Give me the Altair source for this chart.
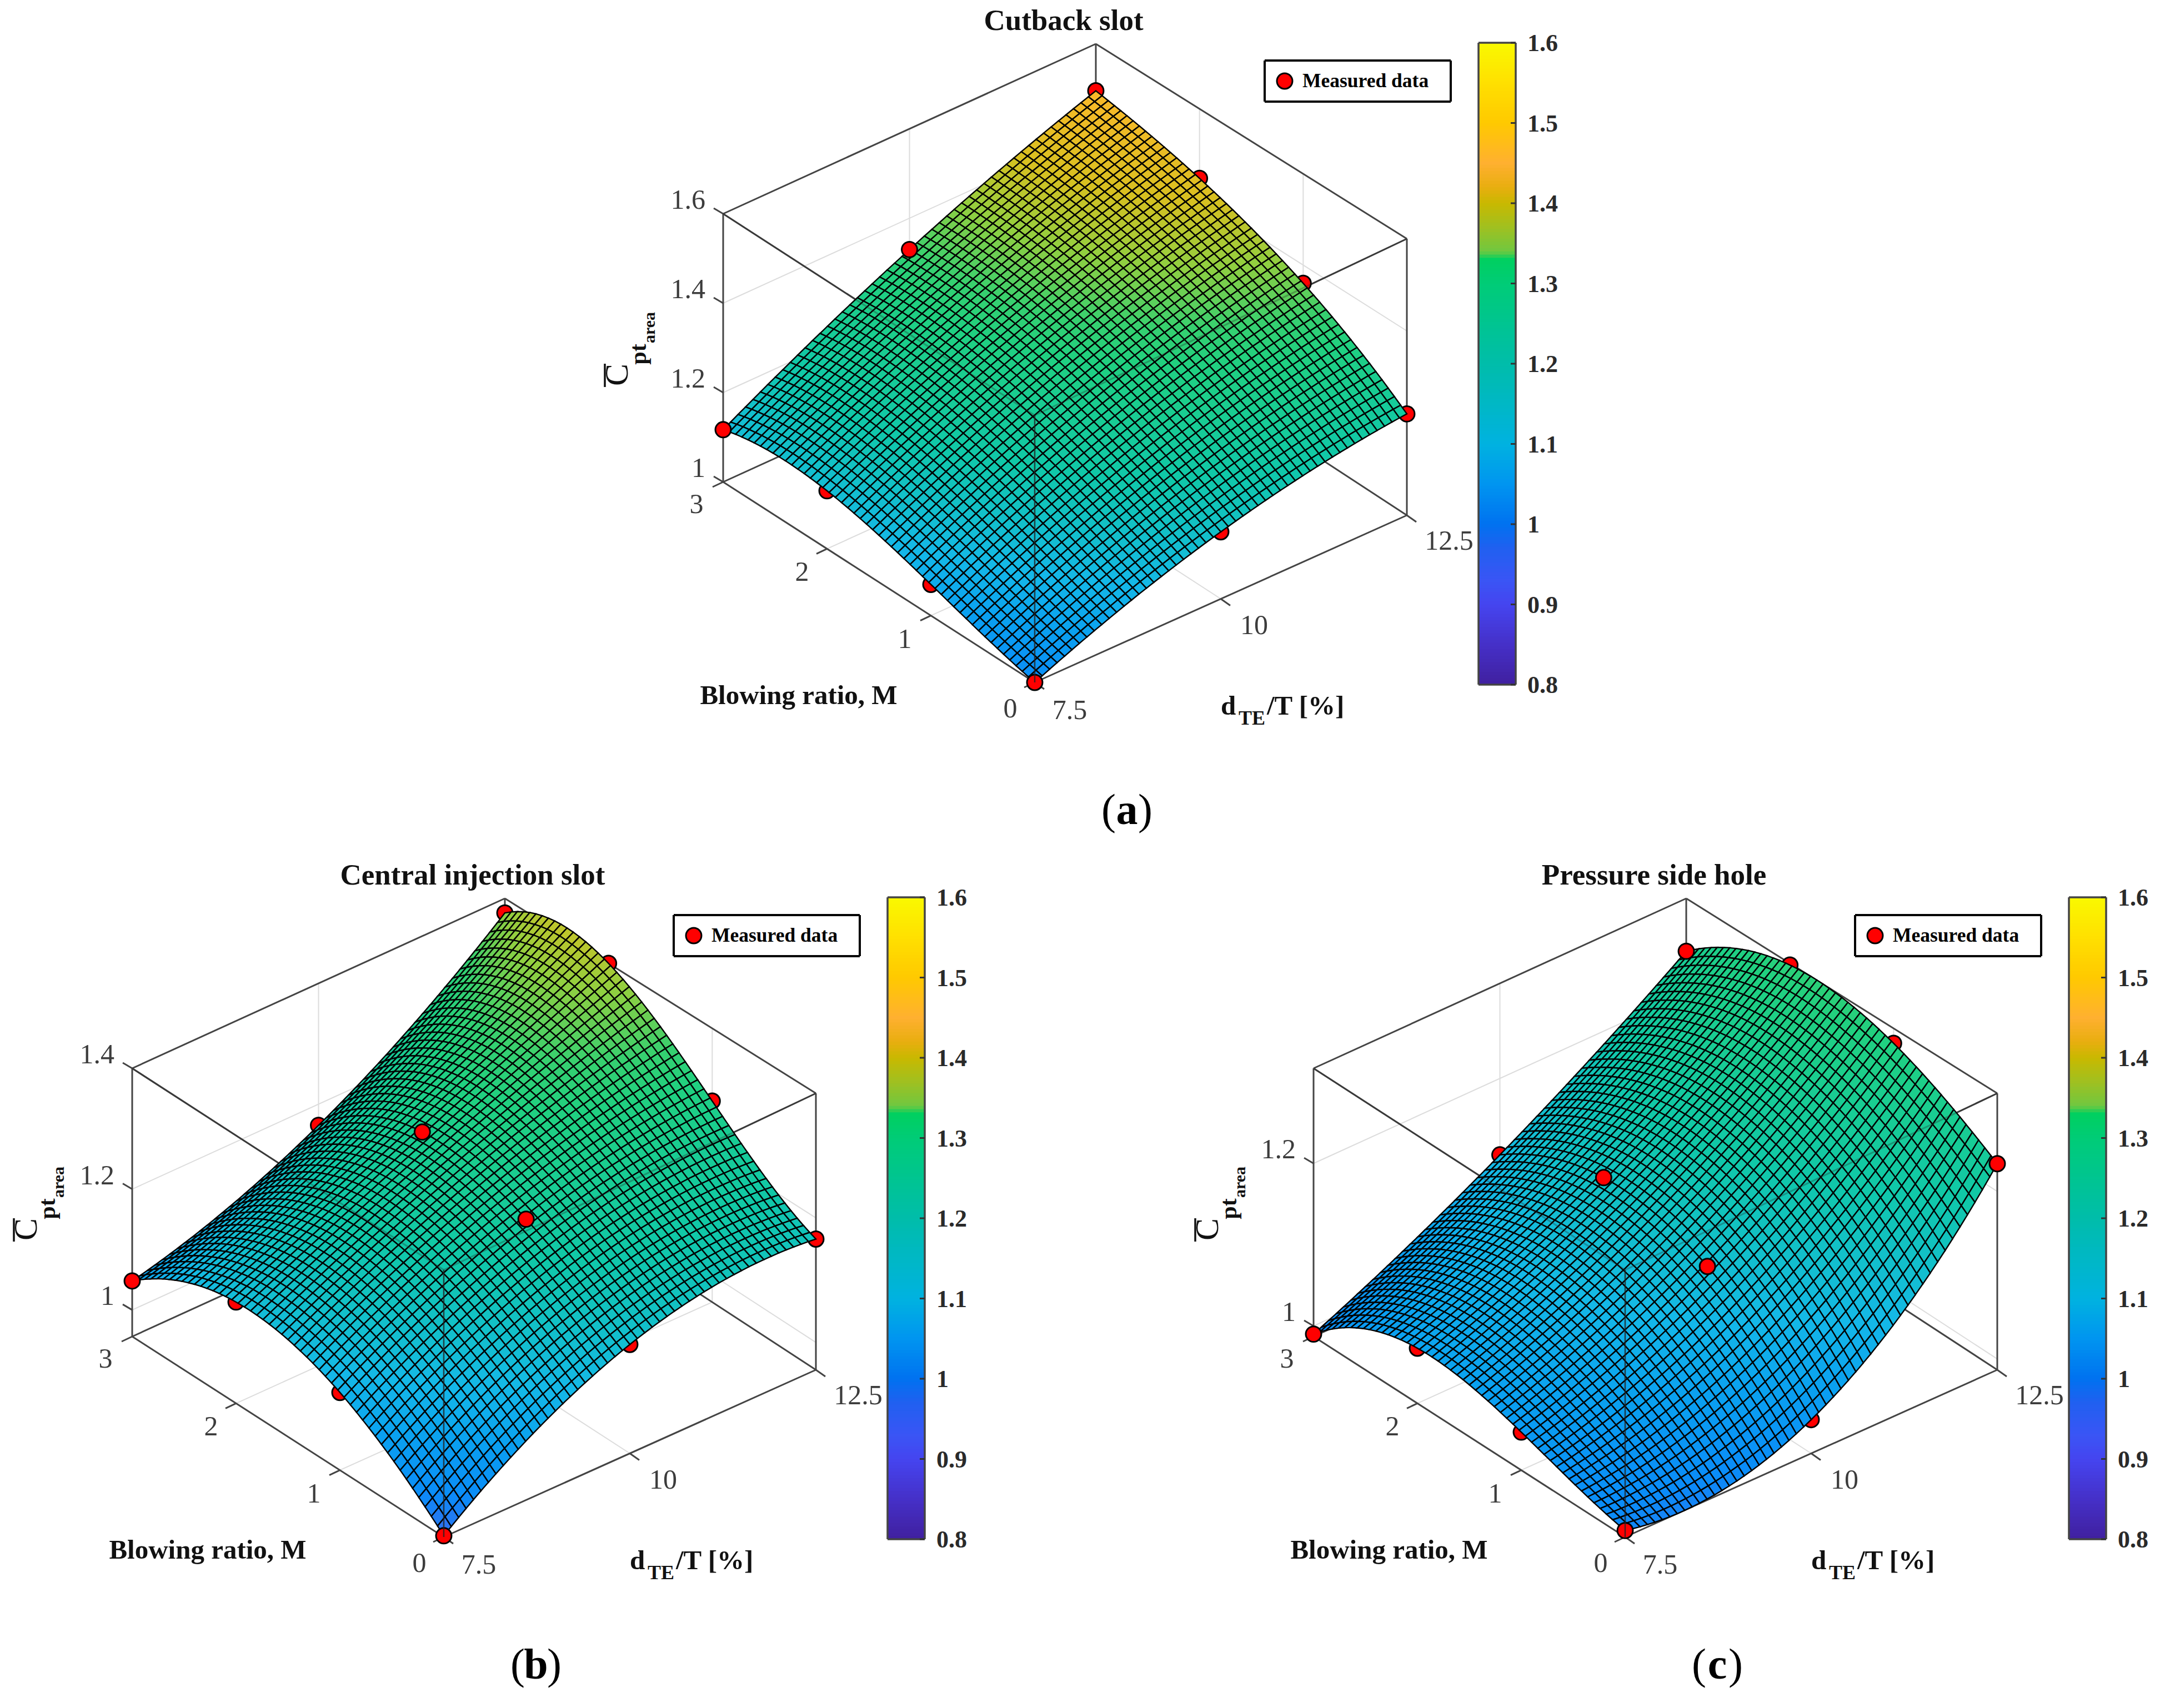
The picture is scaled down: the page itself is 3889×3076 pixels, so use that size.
import numpy as np
import pandas as pd
import altair as alt

alt.data_transformers.disable_max_rows()

# ---------- values ----------
M_VALUES = [0, 1, 2, 3]
D_VALUES = [7.5, 10, 12.5]
# rows: M = 0,1,2,3; columns: d = 7.5, 10, 12.5
CP_CUTBACK = [[1.000, 1.148, 1.220],
              [1.070, 1.252, 1.360],
              [1.130, 1.317, 1.446],
              [1.117, 1.330, 1.495]]
CP_CENTRAL = [[0.958, 1.134, 1.166],
              [1.085, 1.230, 1.282],
              [1.124, 1.264, 1.400],
              [1.048, 1.165, 1.376]]
CP_PRESSURE = [[0.995, 1.028, 1.233],
               [1.034, 1.133, 1.299],
               [1.055, 1.160, 1.315],
               [0.990, 1.106, 1.252]]
TITLES = ["Cutback slot", "Central injection slot", "Pressure side hole"]
CAPTIONS = ["a", "b", "c"]
Z_LIMITS = [(1.0, 1.6), (0.956, 1.4), (0.987, 1.317)]
Z_TICKS = [[1, 1.2, 1.4, 1.6], [1, 1.2, 1.4], [1, 1.2]]
CB_TICKS = [0.8, 0.9, 1, 1.1, 1.2, 1.3, 1.4, 1.5, 1.6]
# measured points that show in front of the surface: (M, d) per panel
ON_TOP = [[(0, 7.5), (3, 7.5), (3, 10)],
          [(0, 7.5), (3, 7.5), (1, 10), (2, 10)],
          [(0, 7.5), (3, 7.5), (1, 10), (2, 10), (0, 12.5), (3, 12.5)]]
SURFACES = [CP_CUTBACK, CP_CENTRAL, CP_PRESSURE]

# colormap as it appears on the colour bars
CB_DOMAIN = [0.8, 0.85, 0.9, 0.93, 0.97, 1.0, 1.05, 1.1, 1.2, 1.3, 1.33, 1.34, 1.37, 1.4, 1.42, 1.45, 1.5, 1.55, 1.6]
CB_RANGE = ["#40209f", "#4530c8", "#4545f0", "#3a55f5", "#2060f0", "#0072f0", "#0095f0", "#00b2e0", "#00bdaa",
            "#00cc77", "#00d060", "#70c840", "#a0c020", "#c9b800", "#e8ae10", "#ffb030", "#ffc900", "#ffe000", "#f9f900"]
# colormap as it appears on the surfaces (smoother and brighter than the bars)
SF_DOMAIN = [0.8, 0.9, 0.96, 1.0, 1.05, 1.1, 1.2, 1.3, 1.33, 1.38, 1.43, 1.5, 1.6]
SF_RANGE = ["#40209f", "#4545f0", "#3070f0", "#0a8cf8", "#0aa0f0", "#14b8e8", "#10c8a8", "#20d080", "#35d070",
            "#90cf40", "#d8c020", "#fdb82a", "#f9f900"]

# ---------- layout (image pixels) ----------
W, H = 3889, 3076
OFFSETS = [(0, 0), (-1064, 1539), (1063, 1539)]
FLOOR = {"F": (1863, 1229), "L": (1302, 868), "R": (2533, 928), "B": (1973, 562)}
TOP = {"F": (1863, 748), "L": (1302, 385), "R": (2533, 430), "B": (1973, 79)}
N_MESH = 50
SERIF = "Liberation Serif"


def bilinear(c, u, v):
    x = (1 - u) * (1 - v) * c["F"][0] + u * (1 - v) * c["L"][0] + (1 - u) * v * c["R"][0] + u * v * c["B"][0]
    y = (1 - u) * (1 - v) * c["F"][1] + u * (1 - v) * c["L"][1] + (1 - u) * v * c["R"][1] + u * v * c["B"][1]
    return x, y


def project(m, d, z, panel):
    lo, hi = Z_LIMITS[panel]
    u, v, w = m / 3, (d - 7.5) / 5, (z - lo) / (hi - lo)
    fx, fy = bilinear(FLOOR, u, v)
    tx, ty = bilinear(TOP, u, v)
    ox, oy = OFFSETS[panel]
    return fx + (tx - fx) * w + ox, fy + (ty - fy) * w + oy


def lagrange(nodes, t):
    out = []
    for i, a in enumerate(nodes):
        p = 1.0
        for j, b in enumerate(nodes):
            if i != j:
                p *= (t - b) / (a - b)
        out.append(p)
    return out


def seg(p, q):
    return {"x": p[0], "y": p[1], "x2": q[0], "y2": q[1]}


X = lambda f="x": alt.X(f, type="quantitative", scale=alt.Scale(domain=[8, W - 8], nice=False, zero=False), axis=None)
Y = lambda f="y": alt.Y(f, type="quantitative", scale=alt.Scale(domain=[H - 8, 8], nice=False, zero=False), axis=None)
COLOR_BAR = alt.Scale(domain=CB_DOMAIN, range=CB_RANGE, interpolate="rgb")
COLOR_SURF = alt.Scale(domain=SF_DOMAIN, range=SF_RANGE, interpolate="rgb")


def rules(rows, color, width, opacity=1.0):
    return alt.Chart(pd.DataFrame(rows)).mark_rule(color=color, strokeWidth=width, opacity=opacity).encode(
        x=X(), y=Y(), x2=alt.X2("x2"), y2=alt.Y2("y2"))


def texts(rows, size, weight="normal", color="#111111", align="center", angle=0):
    return alt.Chart(pd.DataFrame(rows)).mark_text(
        font=SERIF, fontSize=size, fontWeight=weight, color=color, align=align, baseline="middle", angle=angle
    ).encode(x=X(), y=Y(), text="t:N")


def dots(rows, size=780):
    return alt.Chart(pd.DataFrame(rows)).mark_point(
        shape="circle", filled=True, fill="#ff0000", stroke="#000000", strokeWidth=3, size=size, opacity=1
    ).encode(x=X(), y=Y())


grid, box, overlay, ticks, below, above, features = [], [], [], [], [], [], []
cbar, cb_ticks, cb_frame, cb_labels, tick_lab, leg_box, leg_dot = [], [], [], [], [], [], []
title_rows, leg_text, axis_m, axis_d, axis_sub, cap_par, cap_let, z_c, z_pt, z_area, z_bar = [], [], [], [], [], [], [], [], [], [], []
M_LABEL_POS = [(1819, 1277), (1629, 1152), (1444, 1031), (1254, 909)]
D_LABEL_POS = [(1926, 1280), (2258, 1127), (2609, 975)]

for p in range(3):
    ox, oy = OFFSETS[p]
    lo, hi = Z_LIMITS[p]
    P = lambda m, d, z: project(m, d, z, p)
    # box
    for z in (lo, hi):
        box += [seg(P(0, 7.5, z), P(3, 7.5, z)), seg(P(3, 7.5, z), P(3, 12.5, z)),
                seg(P(3, 12.5, z), P(0, 12.5, z)), seg(P(0, 12.5, z), P(0, 7.5, z))]
    for m, d in [(0, 7.5), (3, 7.5), (0, 12.5), (3, 12.5)]:
        box.append(seg(P(m, d, lo), P(m, d, hi)))
    overlay += [seg(P(3, 7.5, hi), P(0, 7.5, hi)), seg(P(0, 12.5, hi), P(0, 7.5, hi))]
    overlay.append(seg(P(0, 7.5, lo), P(0, 7.5, hi)))
    # grid + ticks
    for m in (1, 2):
        grid += [seg(P(m, 7.5, lo), P(m, 12.5, lo)), seg(P(m, 12.5, lo), P(m, 12.5, hi))]
    grid += [seg(P(0, 10, lo), P(3, 10, lo)), seg(P(3, 10, lo), P(3, 10, hi))]
    for z in Z_TICKS[p]:
        grid += [seg(P(3, 7.5, z), P(3, 12.5, z)), seg(P(3, 12.5, z), P(0, 12.5, z))]
        q = P(3, 7.5, z)
        ticks.append(seg(q, (q[0] - 17, q[1] - 10)))
        tick_lab.append({"x": 1270 + ox, "y": q[1] - 24, "t": f"{z:g}"})
    for m in M_VALUES:
        q = P(m, 7.5, lo)
        ticks.append(seg(q, (q[0] - 19, q[1] + 9)))
        tick_lab.append({"x": M_LABEL_POS[m][0] + ox, "y": M_LABEL_POS[m][1] + oy, "t": str(m), "right": 0})
    for i, d in enumerate(D_VALUES):
        q = P(0, d, lo)
        ticks.append(seg(q, (q[0] + 17, q[1] + 12)))
        tick_lab.append({"x": D_LABEL_POS[i][0] + ox, "y": D_LABEL_POS[i][1] + oy, "t": f"{d:g}", "right": 0})
    # measured points
    for i, m in enumerate(M_VALUES):
        for j, d in enumerate(D_VALUES):
            x, y = P(m, d, SURFACES[p][i][j])
            (above if (m, d) in ON_TOP[p] else below).append({"x": x, "y": y})
    # The 50x50 fine mesh is the surface fitted through the measured points above
    # (polynomial through the 4x3 read values); its cells cannot be read one by one.
    ms = np.linspace(0, 3, N_MESH + 1)
    ds = np.linspace(7.5, 12.5, N_MESH + 1)
    vals = np.array(SURFACES[p])
    wm = np.array([lagrange(M_VALUES, t) for t in ms])
    wd = np.array([lagrange(D_VALUES, t) for t in ds])
    zz = wm @ vals @ wd.T
    for i in range(N_MESH - 1, -1, -1):
        for j in range(N_MESH - 1, -1, -1):
            corners = [(i, j), (i + 1, j), (i + 1, j + 1), (i, j + 1), (i, j)]
            ring = [[round(v, 1) for v in P(ms[a], ds[b], zz[a, b])] for a, b in corners]
            features.append({"type": "Feature",
                             "geometry": {"type": "Polygon", "coordinates": [ring]},
                             "properties": {"v": round(float(zz[i:i + 2, j:j + 2].mean()), 4)}})
    # colour bar
    cx0, cx1, cy0, cy1 = 2662 + ox, 2729 + ox, 77 + oy, 1233 + oy
    cy = lambda v: cy1 + (cy0 - cy1) * (v - 0.8) / 0.8
    n = 200
    for k in range(n):
        v0 = 0.8 + 0.8 * k / n
        v1 = 0.8 + 0.8 * (k + 1) / n
        cbar.append({"x": cx0, "x2": cx1, "y": cy(v0), "y2": cy(v1) - 1, "v": (v0 + v1) / 2})
    cb_frame += [seg((cx0, cy0), (cx1, cy0)), seg((cx1, cy0), (cx1, cy1)),
                 seg((cx1, cy1), (cx0, cy1)), seg((cx0, cy1), (cx0, cy0))]
    for v in CB_TICKS:
        cb_ticks.append(seg((cx1, cy(v)), (cx1 - 9, cy(v))))
        cb_labels.append({"x": 2750 + ox, "y": cy(v) + 2, "t": f"{v:g}"})
    # legend
    lx0, lx1, ly0, ly1 = 2277 + ox, 2612 + ox, 109 + oy, 183 + oy
    leg_box += [seg((lx0, ly0), (lx1, ly0)), seg((lx1, ly0), (lx1, ly1)), seg((lx1, ly1), (lx0, ly1)), seg((lx0, ly1), (lx0, ly0))]
    leg_dot.append({"x": 2313 + ox, "y": 146 + oy})
    leg_text.append({"x": 2345 + ox, "y": 146 + oy, "t": "Measured data"})
    # titles, axis titles, captions
    title_rows.append({"x": 1915 + ox, "y": 38 + oy, "t": TITLES[p]})
    axis_m.append({"x": 1438 + ox, "y": 1253 + oy, "t": "Blowing ratio, M"})
    axis_d.append({"x": 2198 + ox, "y": 1272 + oy, "t": "d"})
    axis_d.append({"x": 2281 + ox, "y": 1272 + oy, "t": "/T [%]"})
    axis_sub.append({"x": 2230 + ox, "y": 1294 + oy, "t": "TE"})
    capx = 2029 + ox
    capy = 1461 + oy
    cap_par += [{"x": capx - 33, "y": capy, "t": "("}, {"x": capx + 33, "y": capy, "t": ")"}]
    cap_let.append({"x": capx, "y": capy, "t": CAPTIONS[p]})
    z_c.append({"x": 1112 + ox, "y": 675 + oy, "t": "C"})
    z_pt.append({"x": 1150 + ox, "y": 638 + oy, "t": "pt"})
    z_area.append({"x": 1170 + ox, "y": 590 + oy, "t": "area"})
    z_bar.append(seg((1089 + ox, 655 + oy), (1089 + ox, 697 + oy)))

surface = alt.Chart(alt.Data(values=features, format=alt.DataFormat(type="json"))).mark_geoshape(
    stroke="#000000", strokeWidth=2.4
).encode(
    color=alt.Color("properties.v:Q", scale=COLOR_SURF, legend=None)
).project(type="identity", scale=1, translate=[-8, -8])

bars = alt.Chart(pd.DataFrame(cbar)).mark_rect().encode(
    x=X(), x2=alt.X2("x2"), y=Y(), y2=alt.Y2("y2"),
    color=alt.Color("v:Q", scale=COLOR_BAR, legend=None))

TICK_GRAY = "#3c3c3c"
tick_mb = [r for r in tick_lab if "right" in r]
tick_z = [r for r in tick_lab if "right" not in r]

chart = alt.layer(
    rules(grid, "#dcdcdc", 2),
    rules(box, "#444444", 3),
    rules(ticks, "#444444", 3),
    dots(below),
    surface,
    dots(above),
    rules(overlay[2::3], "#222222", 2.5, 0.8),
    rules(overlay[:2] + overlay[3:5] + overlay[6:8], "#222222", 3, 0.3),
    bars,
    rules(cb_frame, "#444444", 3.5),
    rules(cb_ticks, "#333333", 3),
    texts(cb_labels, 44, "bold", "#2a2a2a", "left"),
    rules(leg_box, "#000000", 4),
    dots(leg_dot),
    texts(leg_text, 35.5, "bold", "#000000", "left"),
    texts(tick_mb, 50, "normal", TICK_GRAY),
    texts(tick_z, 50, "normal", TICK_GRAY, "right"),
    texts(title_rows, 53, "bold", "#111111"),
    texts(axis_m, 49, "bold", "#111111"),
    texts(axis_d, 49, "bold", "#111111", "left"),
    texts(axis_sub, 36, "bold", "#111111", "left"),
    texts(cap_par, 78, "normal", "#000000"),
    texts(cap_let, 78, "bold", "#000000"),
    texts(z_c, 60, "normal", "#111111", "center", 270),
    texts(z_pt, 42, "bold", "#111111", "center", 270),
    texts(z_area, 30, "bold", "#111111", "center", 270),
    rules(z_bar, "#111111", 3.5),
).resolve_scale(color="independent").properties(
    width=W - 16, height=H - 16, padding=0, background="white"
).configure_view(strokeWidth=0)

chart.save("out.html", embed_options={"renderer": "svg", "actions": False})
